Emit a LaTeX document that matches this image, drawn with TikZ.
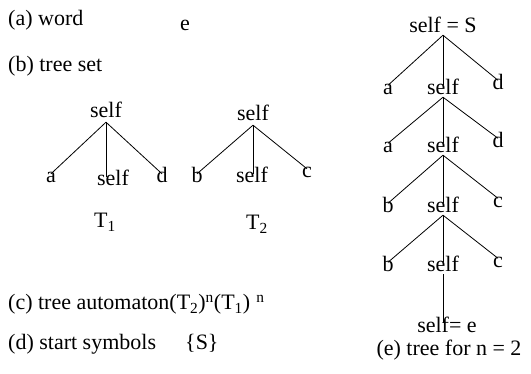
\documentclass[tikz,border=0pt]{standalone}
\usepackage{fontspec}
\setmainfont{Liberation Serif}

\begin{document}
\begin{tikzpicture}[
    x=1pt, y=-1pt,
    txt/.style={font=\fontsize{22}{26}\selectfont, inner sep=2pt, anchor=base},
    item/.style={txt, anchor=base west},
    sym/.style={txt, text height=0.7em, text depth=0.2em},
    rsym/.style={txt, text height=0.75em, text depth=0pt},
    edge/.style={line width=0.8pt},
]
    \useasboundingbox (0,0) rectangle (531,374);

    \node[item] (wordlbl) at (6,26) {(a) word};
    \node[txt] (word) at (185,31) {e};
    \node[item] (setlbl) at (6,72) {(b) tree set};

    % tree T1
    \node[sym] (ta) at (106,118) {self};
    \node[sym] (ta1) at (51,183) {a};
    \node[sym] (ta2) at (113,186) {self};
    \node[sym] (ta3) at (162,183) {d};
    \node[txt] (tname1) at (105,228) {T\textsubscript{1}};
    \draw[edge] (ta.south) -- (ta1.north);
    \draw[edge] (ta.south) -- (ta.south |- ta2.north);
    \draw[edge] (ta.south) -- (ta3.north);

    % tree T2
    \node[sym] (tb) at (253,121) {self};
    \node[sym] (tb1) at (197,183) {b};
    \node[sym] (tb2) at (252,183) {self};
    \node[sym] (tb3) at (307,178) {c};
    \node[txt] (tname2) at (257,230) {T\textsubscript{2}};
    \draw[edge] (tb.south) -- (tb1.north);
    \draw[edge] (tb.south) -- (tb.south |- tb2.north);
    \draw[edge] (tb.south) -- (tb3.north);

    \node[item] (autlbl) at (6,310)
        {(c) tree automaton(T\textsubscript{2})\textsuperscript{n}(T\textsubscript{1})\;\textsuperscript{n}};
    \node[item] (startlbl) at (6,350) {(d) start symbols};
    \node[item] (start) at (183,350) {\{S\}};

    % derived tree for n = 2
    \node[rsym] (r0) at (443,33) {self = S};
    \node[rsym] (l1) at (388,95) {a};
    \node[rsym] (m1) at (443,95) {self};
    \node[rsym] (r1) at (498,90) {d};
    \node[rsym] (l2) at (388,153) {a};
    \node[rsym] (m2) at (443,153) {self};
    \node[rsym] (r2) at (498,148) {d};
    \node[rsym] (l3) at (388,213) {b};
    \node[rsym] (m3) at (443,213) {self};
    \node[rsym] (r3) at (498,208) {c};
    \node[rsym] (l4) at (388,272) {b};
    \node[rsym] (m4) at (443,272) {self};
    \node[rsym] (r4) at (498,268) {c};
    \node[rsym] (leaf) at (447,333) {self= e};
    \node[txt] (caption) at (449,356) {(e) tree for n = 2};

    \draw[edge] (r0.south) -- (l1.north);
    \draw[edge] (r0.south) -- (m1.north);
    \draw[edge] (r0.south) -- (r1.north);
    \draw[edge] (m1.south) -- (l2.north);
    \draw[edge] (m1.south) -- (m2.north);
    \draw[edge] (m1.south) -- (r2.north);
    \draw[edge] (m2.south) -- (l3.north);
    \draw[edge] (m2.south) -- (m3.north);
    \draw[edge] (m2.south) -- (r3.north);
    \draw[edge] (m3.south) -- (l4.north);
    \draw[edge] (m3.south) -- (m4.north);
    \draw[edge] (m3.south) -- (r4.north);
    \draw[edge] (m4.south) -- (m4.south |- leaf.north);

\end{tikzpicture}
\end{document}
